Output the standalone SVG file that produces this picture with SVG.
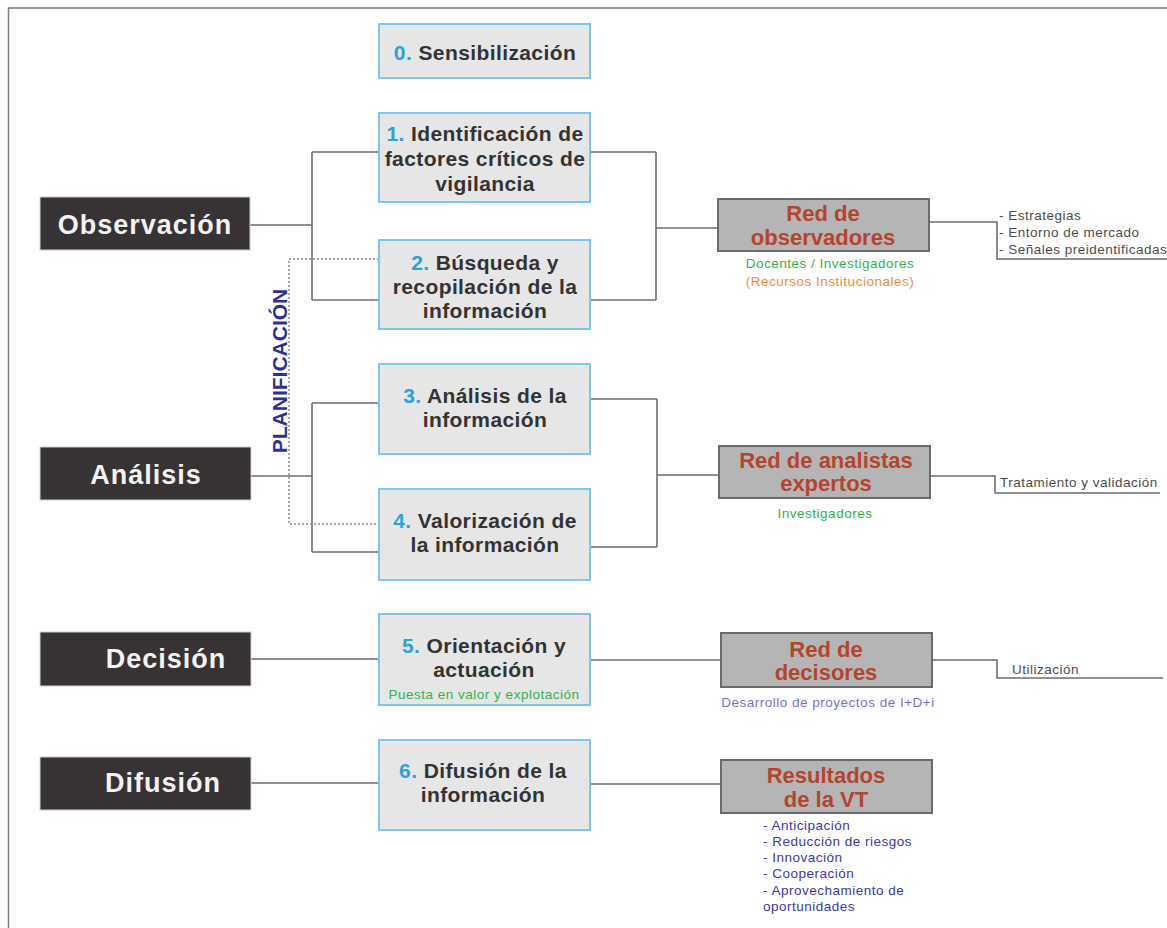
<svg xmlns="http://www.w3.org/2000/svg" width="1167" height="928" viewBox="0 0 1167 928">
<style>
.frame{fill:none;stroke:#7a7a7a;stroke-width:1.5}
.conn{fill:none;stroke:#6e6e6e;stroke-width:1.6}
.dot{fill:none;stroke:#8a8a8a;stroke-width:1.4;stroke-dasharray:2 2}
.dark{fill:#373334;stroke:#cfcfcf;stroke-width:1}
.dtxt{font-family:"Liberation Sans",Arial,sans-serif;font-weight:bold;font-size:27px;letter-spacing:1px;fill:#f2f2f2;text-anchor:middle}
.step{fill:#e6e6e6;stroke:#7fc6ee;stroke-width:2}
.stxt{font-family:"Liberation Sans",Arial,sans-serif;font-weight:bold;font-size:21px;letter-spacing:0.4px;fill:#333333;text-anchor:middle}
.num{fill:#2aa2dd}
.red{fill:#b5b5b5;stroke:#6a6a6a;stroke-width:2}
.rtxt{font-family:"Liberation Sans",Arial,sans-serif;font-weight:bold;font-size:22px;fill:#b3452f;text-anchor:middle}
.small{font-family:"Liberation Sans",Arial,sans-serif;font-size:13.5px;letter-spacing:0.5px}
.gray{fill:#4d4d4d}
.green{fill:#2fb34f}
.orange{fill:#f08b3e}
.lav{fill:#7b70d2}
.blue{fill:#3a3aa8}
.plan{font-family:"Liberation Sans",Arial,sans-serif;font-weight:bold;font-size:21px;fill:#2e3192;text-anchor:middle}
</style>
<path class="frame" d="M8.5,928 V8 H1167"/>
<g id="connectors">
<path class="conn" d="M250,225 H312 M312,152 V300 M312,152 H379 M312,300 H379"/>
<path class="conn" d="M590,152 H656 M590,300 H656 M656,152 V300 M656,228 H718"/>
<path class="conn" d="M251,476 H312 M312,403 V552 M312,403 H379 M312,552 H379"/>
<path class="conn" d="M590,399 H657 M590,547 H657 M657,399 V547 M657,475 H719"/>
<path class="conn" d="M251,659 H379 M590,660 H721"/>
<path class="conn" d="M251,783 H379 M590,784 H721"/>
<path class="conn" d="M929,222 H997 V259 H1167"/>
<path class="conn" d="M930,476 H995 V493 H1160"/>
<path class="conn" d="M932,660 H997 V678 H1163"/>
<path class="dot" d="M379,259 H289 V524 H379"/>
</g>
<g id="planificacion">
<text class="plan" transform="translate(287,371) rotate(-90)">PLANIFICACIÓN</text>
</g>
<g id="observacion">
<rect class="dark" x="40" y="197" width="210" height="53"/>
<text class="dtxt" x="145" y="234">Observación</text>
</g>
<g id="analisis">
<rect class="dark" x="40" y="447" width="211" height="53"/>
<text class="dtxt" x="146" y="484">Análisis</text>
</g>
<g id="decision">
<rect class="dark" x="40" y="632" width="211" height="54"/>
<text class="dtxt" x="166" y="668">Decisión</text>
</g>
<g id="difusion">
<rect class="dark" x="40" y="757" width="211" height="53"/>
<text class="dtxt" x="163" y="792">Difusión</text>
</g>
<g id="step0">
<rect class="step" x="379" y="24" width="211" height="54"/>
<text class="stxt" x="485" y="60"><tspan class="num">0.</tspan> Sensibilización</text>
</g>
<g id="step1">
<rect class="step" x="379" y="113" width="211" height="89"/>
<text class="stxt" x="485" y="141"><tspan class="num">1.</tspan> Identificación de</text>
<text class="stxt" x="485" y="166">factores críticos de</text>
<text class="stxt" x="485" y="191">vigilancia</text>
</g>
<g id="step2">
<rect class="step" x="379" y="240" width="211" height="89"/>
<text class="stxt" x="485" y="270"><tspan class="num">2.</tspan> Búsqueda y</text>
<text class="stxt" x="485" y="294">recopilación de la</text>
<text class="stxt" x="485" y="318">información</text>
</g>
<g id="step3">
<rect class="step" x="379" y="364" width="211" height="90"/>
<text class="stxt" x="485" y="403"><tspan class="num">3.</tspan> Análisis de la</text>
<text class="stxt" x="485" y="427">información</text>
</g>
<g id="step4">
<rect class="step" x="379" y="489" width="211" height="91"/>
<text class="stxt" x="485" y="528"><tspan class="num">4.</tspan> Valorización de</text>
<text class="stxt" x="485" y="552">la información</text>
</g>
<g id="step5">
<rect class="step" x="379" y="614" width="211" height="91"/>
<text class="stxt" x="484" y="653"><tspan class="num">5.</tspan> Orientación y</text>
<text class="stxt" x="484" y="677">actuación</text>
<text class="small green" x="484" y="699" text-anchor="middle">Puesta en valor y explotación</text>
</g>
<g id="step6">
<rect class="step" x="379" y="740" width="211" height="90"/>
<text class="stxt" x="483" y="778"><tspan class="num">6.</tspan> Difusión de la</text>
<text class="stxt" x="483" y="802">información</text>
</g>
<g id="red-observadores">
<rect class="red" x="718" y="199" width="211" height="52"/>
<text class="rtxt" x="823" y="221">Red de</text>
<text class="rtxt" x="823" y="245">observadores</text>
<text class="small green" x="830" y="268" text-anchor="middle">Docentes / Investigadores</text>
<text class="small orange" x="830" y="286" text-anchor="middle">(Recursos Institucionales)</text>
<text class="small gray" x="999" y="220">- Estrategias</text>
<text class="small gray" x="999" y="237">- Entorno de mercado</text>
<text class="small gray" x="999" y="254">- Señales preidentificadas</text>
</g>
<g id="red-analistas">
<rect class="red" x="719" y="446" width="211" height="52"/>
<text class="rtxt" x="826" y="468">Red de analistas</text>
<text class="rtxt" x="826" y="491">expertos</text>
<text class="small green" x="825" y="518" text-anchor="middle">Investigadores</text>
<text class="small gray" x="1000" y="487">Tratamiento y validación</text>
</g>
<g id="red-decisores">
<rect class="red" x="721" y="633" width="211" height="54"/>
<text class="rtxt" x="826" y="657">Red de</text>
<text class="rtxt" x="826" y="680">decisores</text>
<text class="small lav" x="828" y="707" text-anchor="middle">Desarrollo de proyectos de I+D+i</text>
<text class="small gray" x="1012" y="674">Utilización</text>
</g>
<g id="resultados">
<rect class="red" x="721" y="760" width="211" height="53"/>
<text class="rtxt" x="826" y="783">Resultados</text>
<text class="rtxt" x="826" y="807">de la VT</text>
<text class="small blue" x="763" y="830">- Anticipación</text>
<text class="small blue" x="763" y="846">- Reducción de riesgos</text>
<text class="small blue" x="763" y="862">- Innovación</text>
<text class="small blue" x="763" y="878">- Cooperación</text>
<text class="small blue" x="763" y="895">- Aprovechamiento de</text>
<text class="small blue" x="763" y="911">oportunidades</text>
</g>
</svg>
